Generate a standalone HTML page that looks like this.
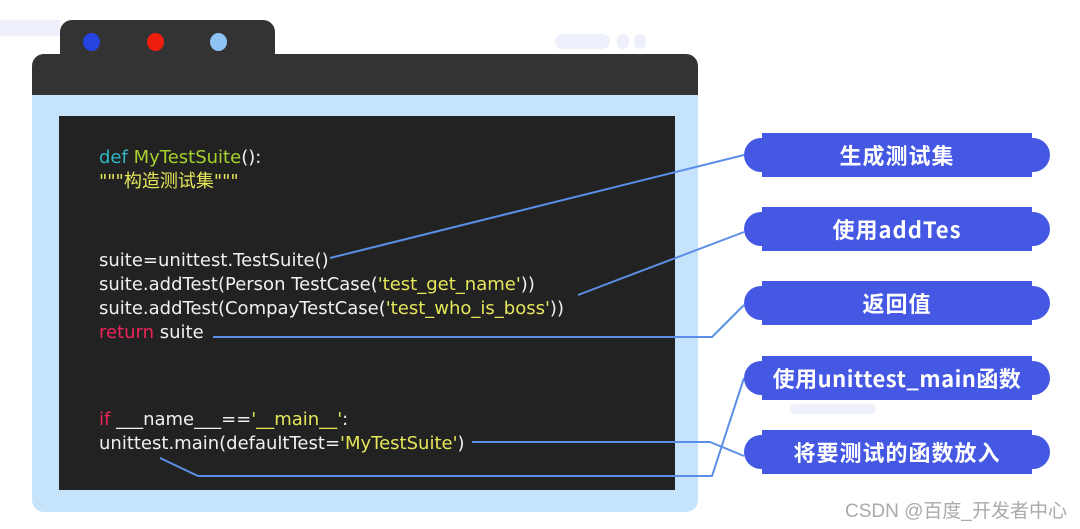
<!DOCTYPE html>
<html><head><meta charset="utf-8"><style>
body{margin:0;width:1080px;height:529px;background:#fff;position:relative;overflow:hidden;font-family:"Liberation Sans","Noto Sans CJK SC",sans-serif}
.a{position:absolute}
.code{position:absolute;left:99px;font-family:"DejaVu Sans","Noto Sans CJK SC",sans-serif;font-size:18px;color:#f0f0f0;letter-spacing:0px;white-space:pre;line-height:24px}
.y{color:#e6e65a}.c{color:#2fb8c8}.g{color:#a6d22e}.r{color:#f0245a}
.pill{position:absolute;left:744px;width:306px;height:44px}
.pill .m{position:absolute;left:18px;right:18px;top:0;bottom:0;background:#4458e4}
.pill .e{position:absolute;left:0;right:0;top:5px;bottom:5px;background:#4458e4;border-radius:17px}
.pill span{position:absolute;left:0;right:0;top:0;line-height:44px;text-align:center;color:#fff;font-weight:bold;font-size:22px;font-family:"Noto Sans CJK SC",sans-serif;letter-spacing:1px}
</style></head><body>
<div class="a" style="left:0;top:20px;width:60px;height:16px;background:#eef0fb"></div>
<div class="a" style="left:555px;top:34px;width:55px;height:15px;background:#eef0fb;border-radius:8px"></div>
<div class="a" style="left:617px;top:34px;width:12px;height:15px;background:#eef0fb;border-radius:6px"></div>
<div class="a" style="left:634px;top:34px;width:12px;height:15px;background:#eef0fb;border-radius:6px"></div>
<div class="a" style="left:60px;top:20px;width:215px;height:40px;background:#333;border-radius:12px 12px 0 0"></div>
<div class="a" style="left:83px;top:33px;width:17px;height:18px;background:#2443e0;border-radius:50%"></div>
<div class="a" style="left:147px;top:33px;width:17px;height:18px;background:#ee1d0d;border-radius:50%"></div>
<div class="a" style="left:210px;top:33px;width:17px;height:18px;background:#8ec3f5;border-radius:50%"></div>
<div class="a" style="left:32px;top:54px;width:666px;height:458px;background:#c5e3fb;border-radius:12px"></div>
<div class="a" style="left:32px;top:54px;width:666px;height:41px;background:#333;border-radius:12px 12px 0 0"></div>
<div class="a" style="left:59px;top:116px;width:616px;height:374px;background:#222"></div>
<div class="code" style="top:146px"><span class="c">def</span> <span class="g">MyTestSuite</span>():
<span class="y">"""构造测试集"""</span></div>
<div class="code" style="top:249px">suite=unittest.TestSuite()
suite.addTest(Person TestCase(<span class="y">'test_get_name'</span>))
suite.addTest(CompayTestCase(<span class="y">'test_who_is_boss'</span>))
<span class="r">return</span> suite</div>
<div class="code" style="top:408px"><span class="r">if</span> ___name___==<span class="y">'__main__'</span>:
unittest.main(defaultTest=<span class="y">'MyTestSuite'</span>)</div>
<svg class="a" style="left:0;top:0" width="1080" height="529">
<g fill="none" stroke="#5b8ee6" stroke-width="2">
<polyline points="330,258 744,155"/>
<polyline points="578,295 744,232"/>
<polyline points="213,337 712,337 744,305"/>
<polyline points="472,442 710,442 744,456"/>
<polyline points="160,458 198,476 712,476 744,378"/>
</g></svg>
<div class="pill" style="top:133px"><div class="e"></div><div class="m"></div><span>生成测试集</span></div>
<div class="pill" style="top:207px"><div class="e"></div><div class="m"></div><span>使用addTes</span></div>
<div class="pill" style="top:281px"><div class="e"></div><div class="m"></div><span>返回值</span></div>
<div class="pill" style="top:356px"><div class="e"></div><div class="m"></div><span style="letter-spacing:0.5px">使用unittest_main函数</span></div>
<div class="pill" style="top:430px"><div class="e"></div><div class="m"></div><span>将要测试的函数放入</span></div>
<div class="a" style="left:790px;top:404px;width:86px;height:10px;background:#eef0fb;border-radius:5px"></div>
<div class="a" style="left:845px;top:496px;font-size:19px;color:#aaa;font-family:'Liberation Sans','Noto Sans CJK SC',sans-serif">CSDN @百度_开发者中心</div>
</body></html>
